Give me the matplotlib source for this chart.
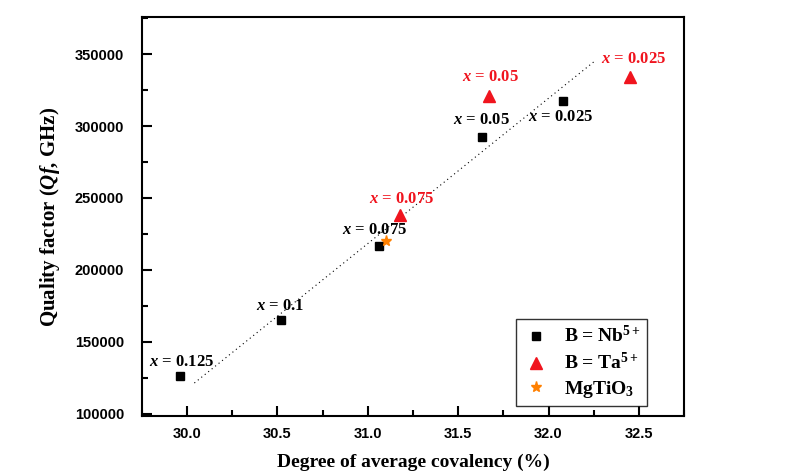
import matplotlib
matplotlib.use("Agg")
import matplotlib.pyplot as plt
from matplotlib.ticker import MultipleLocator, FormatStrFormatter

plt.rcParams["mathtext.fontset"] = "custom"
plt.rcParams["mathtext.rm"] = "Liberation Serif:bold"
plt.rcParams["mathtext.bf"] = "Liberation Serif:bold"
plt.rcParams["mathtext.it"] = "Liberation Serif:bold:italic"

# ── data ─────────────────────────────────────────────────────────────────────
nb_cov = [29.96, 30.52, 31.06, 31.63, 32.08]
nb_qf = [126500, 165000, 216500, 292300, 317500]
nb_lbl = ["0.125", "0.1", "0.075", "0.05", "0.025"]

ta_cov = [31.18, 31.67, 32.45]
ta_qf = [238000, 320500, 334000]
ta_lbl = ["0.075", "0.05", "0.025"]

mg_cov = [31.10]
mg_qf = [220000]

fit_cov = [30.04, 32.26]
fit_qf = [121500, 345500]

# label offsets (points)
nb_off = [(1, 10), (-1, 10), (-3, 12), (0, 12), (-2, -12)]
ta_off = [(1, 12), (1, 14), (3, 13)]

RED = "#F0141E"
ORANGE = "#FF8000"

fig = plt.figure(figsize=(7.94, 4.74), dpi=100)
ax = fig.add_axes([0.1788, 0.1224, 0.6827, 0.8417])

ax.plot(fit_cov, fit_qf, color="black", lw=0.8, linestyle=(0, (1, 3)), zorder=1)
ax.plot(nb_cov, nb_qf, "s", color="black", ms=6, ls="none", label=r"B = Nb$^{5+}$", zorder=3)
ax.plot(ta_cov, ta_qf, "^", color=RED, ms=9, ls="none", label=r"B = Ta$^{5+}$", zorder=3)
ax.plot(mg_cov, mg_qf, "*", color=ORANGE, ms=8, ls="none", label=r"MgTiO$_3$", zorder=4)

for x, y, t, off in zip(nb_cov, nb_qf, nb_lbl, nb_off):
    ax.annotate(r"$x$ = " + t, (x, y), xytext=off, textcoords="offset points",
                ha="center", va="center", fontsize=12, color="black",
                fontfamily="Liberation Serif", fontweight="bold")
for x, y, t, off in zip(ta_cov, ta_qf, ta_lbl, ta_off):
    ax.annotate(r"$x$ = " + t, (x, y), xytext=off, textcoords="offset points",
                ha="center", va="center", fontsize=12, color=RED,
                fontfamily="Liberation Serif", fontweight="bold")

ax.set_xlim(29.75, 32.75)
ax.set_ylim(98600, 375700)
ax.xaxis.set_major_locator(MultipleLocator(0.5))
ax.xaxis.set_minor_locator(MultipleLocator(0.25))
ax.yaxis.set_major_locator(MultipleLocator(50000))
ax.yaxis.set_minor_locator(MultipleLocator(25000))
ax.tick_params(which="both", direction="in", top=False, right=False, width=1.5)
ax.tick_params(axis="y", which="major", length=7, labelsize=10.5, pad=13)
ax.tick_params(axis="x", which="major", length=7, labelsize=10.5, pad=8)
ax.tick_params(which="minor", length=4)
ax.xaxis.set_major_formatter(FormatStrFormatter("%.1f"))
ax.yaxis.set_major_formatter(FormatStrFormatter("%d"))
for lab in ax.get_xticklabels() + ax.get_yticklabels():
    lab.set_fontfamily("Liberation Sans")
    lab.set_fontweight("bold")
for s in ax.spines.values():
    s.set_linewidth(1.5)

ax.set_xlabel("Degree of average covalency (%)", fontfamily="Liberation Serif",
              fontweight="bold", fontsize=14, labelpad=9)
ax.set_ylabel(r"Quality factor ($Qf$, GHz)", fontfamily="Liberation Serif",
              fontweight="bold", fontsize=15, labelpad=9)

leg = ax.legend(loc="lower right", bbox_to_anchor=(0.932, 0.025), borderaxespad=0,
                frameon=True, fancybox=False, edgecolor="black",
                prop={"family": "Liberation Serif", "weight": "bold", "size": 14},
                handletextpad=0.7, borderpad=0.3, labelspacing=0.3, handlelength=1.5)
leg.get_frame().set_linewidth(1.0)

fig.savefig("out.png", dpi=100)
